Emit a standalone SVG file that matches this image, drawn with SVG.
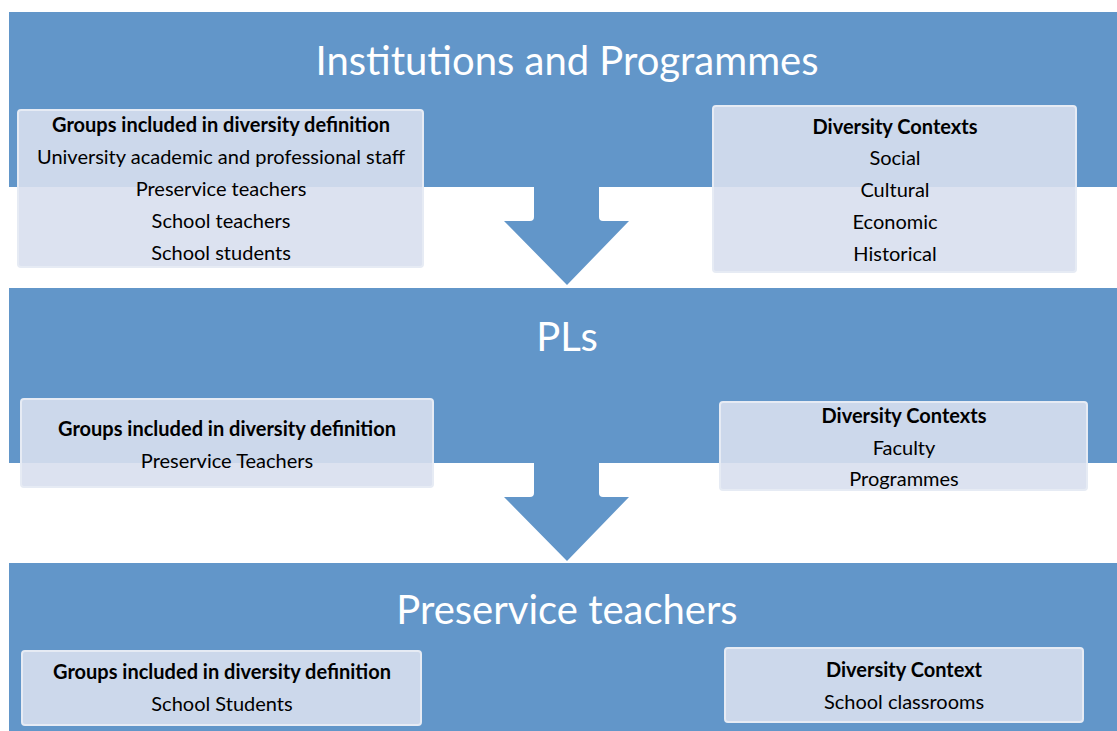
<svg xmlns="http://www.w3.org/2000/svg" width="1117" height="731" viewBox="0 0 1117 731">
<style>
.band{fill:#6296C9}
.arrow{fill:#6296C9}
.box{fill:#D8DFEE;fill-opacity:0.9;stroke:#E6EBF4;stroke-width:2}
.title{font-family:Lato,"Liberation Sans",sans-serif;font-size:40px;fill:#FFFFFF;text-anchor:middle}
.t{font-family:Lato,"Liberation Sans",sans-serif;font-size:20px;fill:#000000;text-anchor:middle}
.b{font-weight:bold}
</style>
<rect width="1117" height="731" fill="#FFFFFF"/>
<g id="band-institutions"><rect class="band" x="9" y="12" width="1108" height="175"/><text class="title" x="567" y="75">Institutions and Programmes</text></g>
<g id="band-pls"><rect class="band" x="9" y="288" width="1108" height="175"/><text class="title" x="567" y="351">PLs</text></g>
<g id="band-preservice"><rect class="band" x="9" y="563" width="1108" height="168"/><text class="title" x="567" y="624">Preservice teachers</text></g>
<g id="connectors">
<path class="arrow" d="M534,186 L534,217 Q534,221 530,221 L504,221 L567,285 L629,221 L603,221 Q599,221 599,217 L599,186 Z"/>
<path class="arrow" d="M534,462 L534,493 Q534,497 530,497 L504,497 L567,561 L629,497 L603,497 Q599,497 599,493 L599,462 Z"/>
</g>
<g id="box-groups-1"><rect class="box" x="18" y="110" width="405" height="157" rx="3"/>
<text class="t b" x="221" y="132">Groups included in diversity definition</text>
<text class="t" x="221" y="164">University academic and professional staff</text>
<text class="t" x="221" y="196">Preservice teachers</text>
<text class="t" x="221" y="228">School teachers</text>
<text class="t" x="221" y="260">School students</text></g>
<g id="box-contexts-1"><rect class="box" x="713" y="106" width="363" height="166" rx="3"/>
<text class="t b" x="895" y="134">Diversity Contexts</text>
<text class="t" x="895" y="165">Social</text>
<text class="t" x="895" y="197">Cultural</text>
<text class="t" x="895" y="229">Economic</text>
<text class="t" x="895" y="261">Historical</text></g>
<g id="box-groups-2"><rect class="box" x="21" y="399" width="412" height="88" rx="3"/>
<text class="t b" x="227" y="436">Groups included in diversity definition</text>
<text class="t" x="227" y="468">Preservice Teachers</text></g>
<g id="box-contexts-2"><rect class="box" x="720" y="402" width="367" height="88" rx="3"/>
<text class="t b" x="904" y="423">Diversity Contexts</text>
<text class="t" x="904" y="455">Faculty</text>
<text class="t" x="904" y="486">Programmes</text></g>
<g id="box-groups-3"><rect class="box" x="22" y="651" width="399" height="74" rx="3"/>
<text class="t b" x="222" y="679">Groups included in diversity definition</text>
<text class="t" x="222" y="711">School Students</text></g>
<g id="box-contexts-3"><rect class="box" x="725" y="648" width="358" height="74" rx="3"/>
<text class="t b" x="904" y="677">Diversity Context</text>
<text class="t" x="904" y="709">School classrooms</text></g>
</svg>
